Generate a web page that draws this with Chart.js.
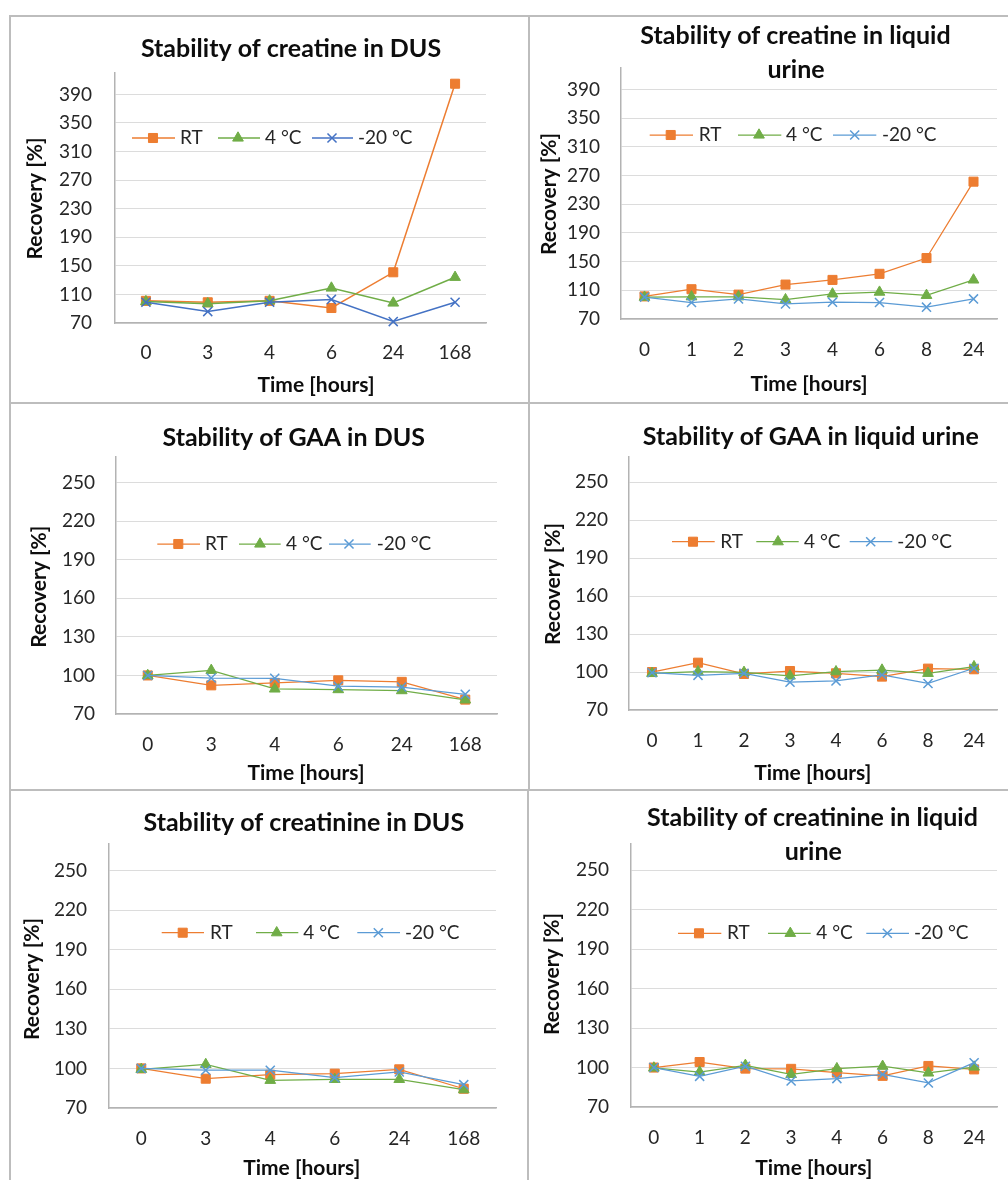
<!DOCTYPE html>
<html><head><meta charset="utf-8">
<script src="https://cdn.jsdelivr.net/npm/chart.js@4/dist/chart.umd.min.js"></script>
<style>
html,body{margin:0;padding:0;background:#fff;}
#page{position:relative;width:1008px;height:1180px;overflow:hidden;background:#fff;}
#page canvas{position:absolute;}
.ln{position:absolute;background:#bdbdbd;z-index:2;}
</style></head><body><div id="page"></div>
<script>
// ---------- data ----------
const hoursDUS = ['0','3','4','6','24','168'];
const hoursUrine = ['0','1','2','3','4','6','8','24'];
const seriesLabels = ['RT','4 °C','-20 °C'];
const creatineTicks = [70,110,150,190,230,270,310,350,390];
const recoveryTicks = [70,100,130,160,190,220,250];
const chartTitles = [
  ['Stability of creatine in DUS'],
  ['Stability of creatine in liquid','urine'],
  ['Stability of GAA in DUS'],
  ['Stability of GAA in liquid urine'],
  ['Stability of creatinine in DUS'],
  ['Stability of creatinine in liquid','urine']
];
const xAxisTitle = 'Time [hours]';
const yAxisTitle = 'Recovery [%]';

const creatineDUS_RT  = [101, 99, 101, 91, 141, 405];
const creatineDUS_4C  = [100, 97, 101, 119, 98, 134];
const creatineDUS_m20 = [99, 86, 99, 103, 72, 99];

const creatineUrine_RT  = [101.5, 111.5, 104, 118, 124.5, 133, 155, 261.5];
const creatineUrine_4C  = [100.5, 101, 101, 97, 105, 107.5, 103, 124.5];
const creatineUrine_m20 = [100.5, 93, 98, 91, 93.5, 93, 86.5, 98];

const gaaDUS_RT  = [100, 92.3, 94.2, 96.2, 95, 81.2];
const gaaDUS_4C  = [100, 104, 89.5, 89, 88.2, 81];
const gaaDUS_m20 = [100, 98, 97.8, 91.6, 91, 85.3];

const gaaUrine_RT  = [100, 107.4, 98.5, 100.8, 99, 96.4, 102.7, 102.2];
const gaaUrine_4C  = [99, 100.3, 99.8, 96.9, 100.3, 101.6, 99, 104.3];
const gaaUrine_m20 = [99.5, 97.4, 99, 92, 93, 97.7, 91, 103];

const creatinineDUS_RT  = [100, 92.2, 95.2, 96, 99.3, 84.6];
const creatinineDUS_4C  = [99.3, 103, 91, 91.7, 91.7, 83.9];
const creatinineDUS_m20 = [100, 98.6, 98.6, 93, 97.3, 87.7];

const creatinineUrine_RT  = [100, 104.2, 99.2, 99, 96.2, 93.7, 101.2, 98.6];
const creatinineUrine_4C  = [99.7, 96.6, 101.7, 94.8, 99.2, 101, 95.9, 100.4];
const creatinineUrine_m20 = [100, 93.3, 101, 89.8, 91.6, 94.8, 88.3, 103.7];

// ---------- layout (page coordinates) ----------
const panels = [
  {box:[10,16,519,387], area:[115,73,486,323], yPad:23, xPad:18, labels:hoursDUS, ticks:creatineTicks, max:420,
   series:[creatineDUS_RT,creatineDUS_4C,creatineDUS_m20], blue:'#4472C4', lw:1.5, title:chartTitles[0], tpos:[[291,49]],
   xt:[316,385], yt:[35,198.5], legY:138, leg:[[132,175,153,180],[218,260,238,265],[312,353,332,358]]},
  {box:[530,16,478,387], area:[621,68,997,319], yPad:21, xPad:19, labels:hoursUrine, ticks:creatineTicks, max:420,
   series:[creatineUrine_RT,creatineUrine_4C,creatineUrine_m20], blue:'#5B9BD5', lw:1.25, title:chartTitles[1], tpos:[[795.5,36],[796,70]],
   xt:[809,384], yt:[549.3,194], legY:135, leg:[[649.7,693,670.7,698.7],[738,781.3,759,786],[833,876.3,854.7,882]]},
  {box:[10,404,519,386], area:[116,457,497,714], yPad:21, xPad:19, labels:hoursDUS, ticks:recoveryTicks, max:270,
   series:[gaaDUS_RT,gaaDUS_4C,gaaDUS_m20], blue:'#5B9BD5', lw:1.25, title:chartTitles[2], tpos:[[293.7,437.5]],
   xt:[306,773], yt:[39.5,586.7], legY:544, leg:[[157.3,200,178.3,205],[239,280.7,260,286],[329,370.7,349,376.7]]},
  {box:[530,404,478,386], area:[629,457,997,710], yPad:21, xPad:19, labels:hoursUrine, ticks:recoveryTicks, max:270,
   series:[gaaUrine_RT,gaaUrine_4C,gaaUrine_m20], blue:'#5B9BD5', lw:1.25, title:chartTitles[3], tpos:[[810.8,437]],
   xt:[812.7,773], yt:[553.5,584], legY:541.7, leg:[[672,714.7,693,720.3],[756.3,798.7,778,804],[849.7,892.3,870.7,897.3]]},
  {box:[10,791,518,389], area:[109,844,496,1108], yPad:22, xPad:19, labels:hoursDUS, ticks:recoveryTicks, max:270,
   series:[creatinineDUS_RT,creatinineDUS_4C,creatinineDUS_m20], blue:'#5B9BD5', lw:1.25, title:chartTitles[4], tpos:[[303.8,823]],
   xt:[301.7,1168], yt:[32.2,979], legY:932.7, leg:[[161.7,204,182.7,210],[256,298.3,276.7,303.3],[357.3,400,378.3,405]]},
  {box:[529,791,479,389], area:[631,844,997,1107], yPad:22, xPad:19, labels:hoursUrine, ticks:recoveryTicks, max:270,
   series:[creatinineUrine_RT,creatinineUrine_4C,creatinineUrine_m20], blue:'#5B9BD5', lw:1.25, title:chartTitles[5], tpos:[[812.5,818],[813.3,852]],
   xt:[813.8,1168], yt:[552,974], legY:933.3, leg:[[678,721.3,699,727],[768,810.7,790.3,816.3],[866.3,909,887.3,914]]}
];

const FONT = 'Lato, Carlito, "Open Sans", sans-serif';
const TITLE_SIZE = 25, AXIS_SIZE = 21, TICK_SIZE = 19, LEGEND_SIZE = 19;

function drawMarker(ctx, style, r, x, y) {
  if (Chart.helpers && Chart.helpers.drawPoint) {
    Chart.helpers.drawPoint(ctx, {pointStyle: style, radius: r, rotation: 0, borderWidth: ctx.lineWidth}, x, y);
    return;
  }
  ctx.beginPath();
  if (style === 'rect') { const s = r * Math.SQRT1_2; ctx.rect(x - s, y - s, 2 * s, 2 * s); ctx.fill(); ctx.stroke(); }
  else if (style === 'triangle') { ctx.moveTo(x, y - r); ctx.lineTo(x + 0.866 * r, y + r / 2); ctx.lineTo(x - 0.866 * r, y + r / 2); ctx.closePath(); ctx.fill(); ctx.stroke(); }
  else { const s = r * Math.SQRT1_2; ctx.moveTo(x - s, y - s); ctx.lineTo(x + s, y + s); ctx.moveTo(x + s, y - s); ctx.lineTo(x - s, y + s); ctx.stroke(); }
}

const excelText = {
  id: 'excelText',
  afterDraw(chart, args, o) {
    const ctx = chart.ctx;
    ctx.save();
    ctx.textBaseline = 'middle';
    ctx.textAlign = 'center';
    ctx.fillStyle = '#0d0d0d';
    ctx.font = 'bold ' + TITLE_SIZE + 'px ' + FONT;
    o.title.forEach((t, i) => ctx.fillText(t, o.tpos[i][0], o.tpos[i][1]));
    ctx.font = 'bold ' + AXIS_SIZE + 'px ' + FONT;
    ctx.fillText(xAxisTitle, o.xt[0], o.xt[1]);
    ctx.save();
    ctx.translate(o.yt[0], o.yt[1]);
    ctx.rotate(-Math.PI / 2);
    ctx.fillText(yAxisTitle, 0, 0);
    ctx.restore();
    // legend
    ctx.font = LEGEND_SIZE + 'px ' + FONT;
    ctx.textAlign = 'left';
    chart.data.datasets.forEach((ds, i) => {
      const it = o.leg[i], y = o.legY;
      ctx.strokeStyle = ds.borderColor; ctx.lineWidth = ds.borderWidth;
      ctx.beginPath(); ctx.moveTo(it[0], y); ctx.lineTo(it[1], y); ctx.stroke();
      ctx.fillStyle = ds.pointBackgroundColor; ctx.strokeStyle = ds.pointBorderColor; ctx.lineWidth = ds.pointBorderWidth;
      drawMarker(ctx, ds.pointStyle, ds.pointRadius, it[2], y);
      ctx.fillStyle = '#262626';
      ctx.fillText(ds.label, it[3], y);
    });
    ctx.restore();
  }
};

const page = document.getElementById('page');
const orange = '#ED7D31', green = '#70AD47';

panels.forEach(p => {
  const [bx, by, bw, bh] = p.box;
  const [L, T, R, B] = p.area;
  const cv = document.createElement('canvas');
  cv.width = bw; cv.height = bh;
  cv.style.left = bx + 'px'; cv.style.top = by + 'px';
  cv.style.width = bw + 'px'; cv.style.height = bh + 'px';
  page.appendChild(cv);
  const sx = v => v - bx, sy = v => v - by;
  const colors = [orange, green, p.blue];
  const styles = ['rect', 'triangle', 'crossRot'];
  const radii = [6.4, 6.2, 6.4];
  const pbw = [1, 1, 1.5];
  const datasets = p.series.map((d, i) => ({
    label: seriesLabels[i], data: d,
    borderColor: colors[i], backgroundColor: colors[i],
    pointBackgroundColor: colors[i], pointBorderColor: colors[i],
    pointStyle: styles[i], pointRadius: radii[i], pointBorderWidth: pbw[i],
    borderWidth: p.lw, tension: 0, order: 3 - i, clip: false
  }));
  const ticksArr = p.ticks;
  new Chart(cv, {
    type: 'line',
    data: { labels: p.labels, datasets },
    options: {
      responsive: false, animation: false, events: [],
      layout: { padding: { left: 0, top: T - by, right: bx + bw - R, bottom: 0 } },
      plugins: {
        legend: { display: false }, tooltip: { enabled: false }, title: { display: false },
        excelText: {
          title: p.title, tpos: p.tpos.map(t => [sx(t[0]), sy(t[1])]),
          xt: [sx(p.xt[0]), sy(p.xt[1])], yt: [sx(p.yt[0]), sy(p.yt[1])],
          legY: sy(p.legY), leg: p.leg.map(a => [sx(a[0]), sx(a[1]), sx(a[2]), sx(a[3])])
        }
      },
      scales: {
        x: {
          offset: true,
          grid: { display: true, drawOnChartArea: false, drawTicks: false },
          border: { display: true, color: '#b3b3b3', width: 1.5 },
          ticks: { color: '#262626', font: { family: FONT, size: TICK_SIZE }, padding: p.xPad, maxRotation: 0, autoSkip: false },
          afterFit: s => { s.height = by + bh - B; }
        },
        y: {
          min: 70, max: p.max,
          grid: { color: '#dcdcdc', lineWidth: 1, drawTicks: false },
          border: { display: true, color: '#b3b3b3', width: 1.5 },
          ticks: { color: '#262626', font: { family: FONT, size: TICK_SIZE }, padding: p.yPad },
          afterBuildTicks: s => { s.ticks = ticksArr.map(v => ({ value: v })); },
          afterFit: s => { s.width = L - bx; }
        }
      }
    },
    plugins: [excelText]
  });
});

// panel frame lines
[[9,15,999,2],[9,15,2,1165],[528,15,2,776],[527,790,2,390],[9,402,999,2],[9,789,999,2]].forEach(r => {
  const d = document.createElement('div');
  d.className = 'ln';
  d.style.left = r[0] + 'px'; d.style.top = r[1] + 'px'; d.style.width = r[2] + 'px'; d.style.height = r[3] + 'px';
  page.appendChild(d);
});
</script>
</body></html>
